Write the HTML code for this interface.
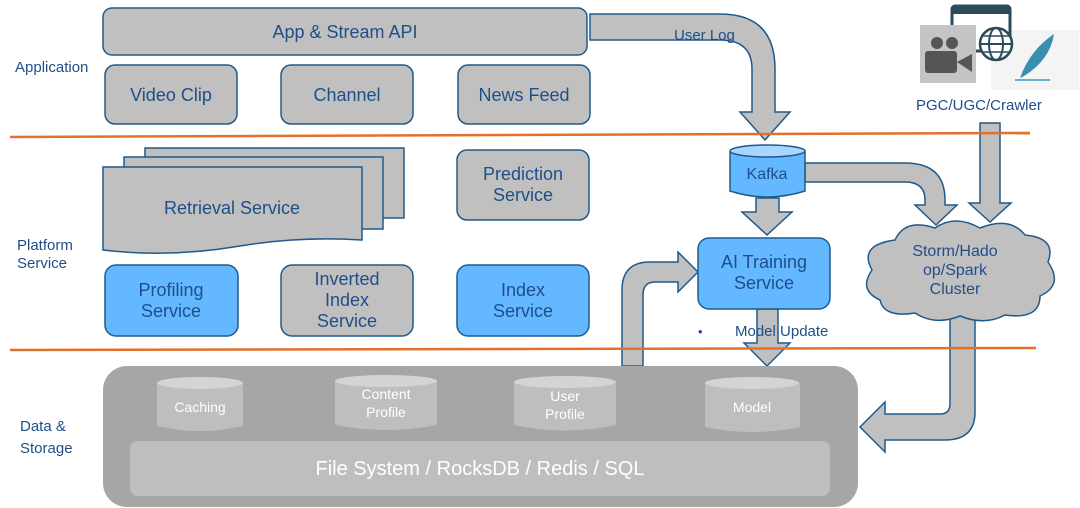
<!DOCTYPE html>
<html><head><meta charset="utf-8"><style>
html,body{margin:0;padding:0;background:#fff;}
svg{display:block;font-family:"Liberation Sans","DejaVu Sans",sans-serif;}
</style></head><body>
<svg width="1080" height="508" viewBox="0 0 1080 508" xmlns="http://www.w3.org/2000/svg">
<g fill="#c0c0c0" stroke="#1f5a8c" stroke-width="1.5">
<path d="M590,14 L720,14 Q775,14 775,69 L775,112 L790,112 L765,140 L740,112 L752,112 L752,69 Q752,40 720,40 L590,40 Z"/>
<path d="M756,198 L779,198 L779,212 L792,212 L767,235 L742,212 L756,212 Z"/>
<path d="M805,163 L905,163 Q945,163 945,200 L945,205 L957,205 L936,225 L915,205 L925,205 L925,200 Q925,182 905,182 L805,182 Z"/>
<path d="M980,123 L1000,123 L1000,203 L1011,203 L990,222 L969,203 L980,203 Z"/>
<path d="M757,309 L778,309 L778,343 L790,343 L767,366 L744,343 L757,343 Z"/>
<path d="M950,316 L975,316 L975,412 Q975,440 945,440 L885,440 L885,452 L860,427 L885,402 L885,414 L940,414 Q950,414 950,404 Z"/>
<path d="M622,366 L622,290 Q622,262 650,262 L678,262 L678,252 L698,272 L678,292 L678,282 L655,282 Q643,282 643,295 L643,366 Z"/>
</g>
<line x1="10" y1="137" x2="1030" y2="133" stroke="#e2712f" stroke-width="2.5"/>
<line x1="10" y1="350" x2="1036" y2="348" stroke="#e2712f" stroke-width="2.5"/>

<g stroke="#1f5a8c" stroke-width="1.5">
<rect x="103" y="8" width="484" height="47" rx="9" fill="#c0c0c0"/>
<rect x="105" y="65" width="132" height="59" rx="10" fill="#c0c0c0"/>
<rect x="281" y="65" width="132" height="59" rx="10" fill="#c0c0c0"/>
<rect x="458" y="65" width="132" height="59" rx="10" fill="#c0c0c0"/>
<rect x="145" y="148" width="259" height="70" fill="#c0c0c0"/>
<rect x="124" y="157" width="259" height="72" fill="#c0c0c0"/>
<path d="M103,167 L362,167 L362,240 Q300,236 240,246 Q170,258 103,250 Z" fill="#c0c0c0"/>
<rect x="457" y="150" width="132" height="70" rx="10" fill="#c0c0c0"/>
<rect x="105" y="265" width="133" height="71" rx="11" fill="#63b8ff"/>
<rect x="281" y="265" width="132" height="71" rx="11" fill="#c0c0c0"/>
<rect x="457" y="265" width="132" height="71" rx="11" fill="#63b8ff"/>
<rect x="698" y="238" width="132" height="71" rx="11" fill="#63b8ff"/>
<path d="M730,151 L730,191 Q767,203 805,191 L805,151" fill="#63b8ff"/>
<ellipse cx="767.5" cy="151" rx="37.5" ry="6" fill="#a8d6ff"/>
<path d="M880,300 Q858,290 872,270 Q858,245 895,240 Q905,218 935,228 Q955,214 980,228 Q1010,216 1025,235 Q1057,238 1048,262 Q1064,285 1040,296 Q1040,320 1005,315 Q985,326 960,316 Q935,326 915,313 Q884,318 880,300 Z" fill="#c0c0c0"/>
</g>

<rect x="103" y="366" width="755" height="141" rx="24" fill="#a6a6a6"/>
<rect x="130" y="441" width="700" height="55" rx="8" fill="#bebebe"/>
<g fill="#bebebe">
<path d="M157,383 L157,426 Q200,436 243,426 L243,383 Z"/><ellipse cx="200" cy="383" rx="43" ry="6" fill="#d4d4d4"/>
<path d="M335,381 L335,425 Q386,435 437,425 L437,381 Z"/><ellipse cx="386" cy="381" rx="51" ry="6" fill="#d4d4d4"/>
<path d="M514,382 L514,425 Q565,436 616,425 L616,382 Z"/><ellipse cx="565" cy="382" rx="51" ry="6" fill="#d4d4d4"/>
<path d="M705,383 L705,427 Q752,437 800,427 L800,383 Z"/><ellipse cx="752" cy="383" rx="47" ry="6" fill="#d4d4d4"/>
</g>
<g fill="#fff" text-anchor="middle" font-size="14">
<text x="200" y="412">Caching</text>
<text x="386" y="399">Content</text><text x="386" y="417">Profile</text>
<text x="565" y="401">User</text><text x="565" y="419">Profile</text>
<text x="752" y="412">Model</text>
<text x="480" y="475" font-size="20">File System / RocksDB / Redis / SQL</text>
</g>

<!-- icons -->
<rect x="991" y="30" width="88" height="60" fill="#f4f4f4"/>
<path d="M1020,78 Q1030,50 1054,34 Q1050,60 1024,76 Z" fill="#3a8fb0"/>
<line x1="1015" y1="80" x2="1050" y2="80" stroke="#6aaecc" stroke-width="2"/>
<rect x="952" y="6" width="58" height="45" rx="3" fill="#fff" stroke="#2d4a5a" stroke-width="3"/>
<rect x="952" y="6" width="58" height="8" fill="#2d4a5a"/>
<rect x="920" y="25" width="56" height="58" fill="#c4c4c4"/>
<circle cx="937" cy="43" r="6" fill="#555"/><circle cx="952" cy="43" r="6" fill="#555"/>
<rect x="925" y="51" width="32" height="22" rx="3" fill="#555"/><path d="M957,62 L972,54 L972,72 Z" fill="#555"/>
<circle cx="996" cy="44" r="16" fill="#fff" stroke="#2d4a5a" stroke-width="2.5"/>
<ellipse cx="996" cy="44" rx="7" ry="16" fill="none" stroke="#2d4a5a" stroke-width="2"/>
<line x1="980" y1="44" x2="1012" y2="44" stroke="#2d4a5a" stroke-width="2"/>
<line x1="982" y1="36" x2="1010" y2="36" stroke="#2d4a5a" stroke-width="1.5"/>
<line x1="982" y1="52" x2="1010" y2="52" stroke="#2d4a5a" stroke-width="1.5"/>

<g fill="#1f4e89" font-size="18" text-anchor="middle">
<text x="345" y="38">App &amp; Stream API</text>
<text x="171" y="101">Video Clip</text>
<text x="347" y="101">Channel</text>
<text x="524" y="101">News Feed</text>
<text x="232" y="214">Retrieval Service</text>
<text x="523" y="180">Prediction</text><text x="523" y="201">Service</text>
<text x="171" y="296">Profiling</text><text x="171" y="317">Service</text>
<text x="347" y="285">Inverted</text><text x="347" y="306">Index</text><text x="347" y="327">Service</text>
<text x="523" y="296">Index</text><text x="523" y="317">Service</text>
<text x="764" y="268">AI Training</text><text x="764" y="289">Service</text>
<text x="767" y="179" font-size="16">Kafka</text>
<text x="955" y="256" font-size="16">Storm/Hado</text>
<text x="955" y="275" font-size="16">op/Spark</text>
<text x="955" y="294" font-size="16">Cluster</text>
</g>
<g fill="#1f4e89" font-size="15">
<text x="674" y="40">User Log</text>
<text x="916" y="110">PGC/UGC/Crawler</text>
<text x="698" y="336" font-size="13">•</text>
<text x="735" y="336">Model Update</text>
<text x="15" y="72">Application</text>
<text x="17" y="250">Platform</text><text x="17" y="268">Service</text>
<text x="20" y="431">Data &amp;</text><text x="20" y="453">Storage</text>
</g>
</svg>
</body></html>
